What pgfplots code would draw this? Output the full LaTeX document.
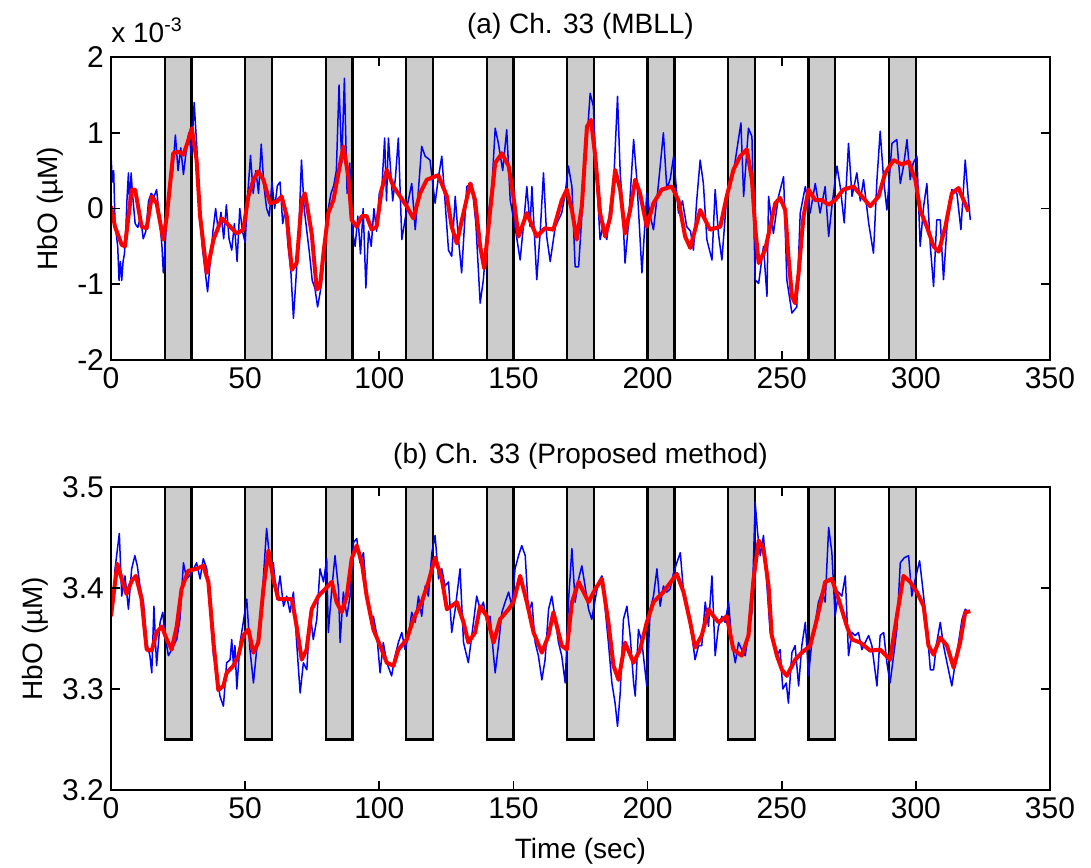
\documentclass[border=0pt]{standalone}
\usepackage{fontspec}
\setmainfont{Liberation Sans}
\usepackage{pgfplots}
\pgfplotsset{compat=1.18}
\definecolor{boxgray}{gray}{0.8}
\definecolor{sigblue}{RGB}{0,0,255}
\definecolor{sigred}{RGB}{255,0,0}

\pgfplotsset{
  fnirs/.style={
    scale only axis, width=469.5pt, height=151.5pt,
    xmin=0, xmax=350, xtick={0,50,...,350},
    tick align=inside, major tick length=4.5pt,
    axis line style={line width=0.9pt},
    every tick/.style={black, line width=0.8pt},
    axis on top,
    /pgf/number format/assume math mode=true,
    tick label style={font=\fontsize{15}{17}\selectfont},
    title style={font=\fontsize{14}{16}\selectfont, at={(0.5,1)}, anchor=base, yshift=6pt},
    label style={font=\fontsize{14}{16}\selectfont},
    xlabel style={yshift=-3pt},
    ylabel={HbO (µM)},
  },
  blk/.style={fill=boxgray, draw=black, line width=1.1pt, forget plot},
  raw/.style={color=sigblue, line width=0.75pt, line join=round},
  filt/.style={color=sigred, line width=2pt, line join=round},
}

\begin{document}
\begin{tikzpicture}
\useasboundingbox (-55.5pt,-253.5pt) rectangle (490pt,180pt);

% (a) MBLL, values in units of 1e-3
\begin{axis}[fnirs, name=top, ymin=-2, ymax=2, ytick={-2,-1,0,1,2},
  title={(a) Ch. 33 (MBLL)}]
  \addplot[blk] coordinates {(20,-2)(20,2)(30,2)(30,-2)} -- cycle;
  \addplot[blk] coordinates {(50,-2)(50,2)(60,2)(60,-2)} -- cycle;
  \addplot[blk] coordinates {(80,-2)(80,2)(90,2)(90,-2)} -- cycle;
  \addplot[blk] coordinates {(110,-2)(110,2)(120,2)(120,-2)} -- cycle;
  \addplot[blk] coordinates {(140,-2)(140,2)(150,2)(150,-2)} -- cycle;
  \addplot[blk] coordinates {(170,-2)(170,2)(180,2)(180,-2)} -- cycle;
  \addplot[blk] coordinates {(200,-2)(200,2)(210,2)(210,-2)} -- cycle;
  \addplot[blk] coordinates {(230,-2)(230,2)(240,2)(240,-2)} -- cycle;
  \addplot[blk] coordinates {(260,-2)(260,2)(270,2)(270,-2)} -- cycle;
  \addplot[blk] coordinates {(290,-2)(290,2)(300,2)(300,-2)} -- cycle;

  \addplot[raw] coordinates {
    (0,0.70)(0.5,0.35)(1,0.50)(1.5,-0.20)(2.5,-0.50)(3,-0.95)(3.5,-0.70)(4,-0.95)(4.5,-0.70)(5,-0.60)
    (5.5,-0.30)(6,0.15)(6.5,0.47)(7,0.00)(7.5,0.47)(8,0.20)(9,-0.20)(10,-0.25)(11,-0.10)(12,-0.40)
    (13,-0.30)(14,0.10)(15,0.20)(16,0.15)(17,0.25)(18,-0.10)(19,-0.50)(19.5,-0.85)(20,-0.60)(21,0.00)
    (22,0.30)(23,0.50)(24,0.97)(25,0.50)(26,0.80)(27,0.45)(28,0.75)(29,1.00)(30,0.70)(31,1.40)
    (32,0.80)(33,0.00)(34,-0.50)(35,-0.80)(36,-1.10)(37,-0.70)(38,-0.30)(39,0.00)(40,-0.30)(41,-0.05)
    (42,-0.40)(43,0.05)(44,-0.40)(45,-0.55)(46,-0.20)(47,-0.70)(48,0.00)(49,-0.30)(50,-0.45)(51,0.20)
    (52,0.70)(53,0.20)(54,0.50)(55,0.20)(56,0.85)(57,0.30)(58,0.00)(59,-0.10)(60,0.35)(61,0.00)
    (62,0.30)(63,0.35)(64,-0.20)(65,0.00)(66,-0.50)(67,-0.80)(68,-1.45)(69,-0.90)(70,-0.30)(71,0.64)
    (72,0.00)(73,-0.30)(74,-0.60)(75,-0.95)(76,-1.05)(77,-1.30)(78,-1.10)(79,-0.80)(80,-0.30)(81,0.00)
    (82,0.20)(83,0.30)(84,0.50)(85,1.63)(86,0.60)(87,1.72)(88,0.20)(89,0.60)(90,-0.30)(91,-0.50)
    (92,-0.10)(93,-0.60)(94,0.00)(95,-1.05)(96,-0.30)(97,-0.50)(98,0.00)(99,-0.30)(100,0.20)(101,0.30)
    (102,0.93)(102.7,0.10)(103.4,0.93)(105,0.10)(106,0.40)(107.1,0.93)(108.4,-0.41)(109,-0.28)(110.5,0.05)(112.1,0.33)
    (113.4,-0.28)(114.5,0.20)(115.8,0.82)(117.1,0.69)(118.9,0.64)(120.8,0.07)(122,0.40)(123.3,0.69)(124.5,0.10)(125.8,-0.55)
    (127,-0.63)(128.3,0.16)(129.5,-0.40)(130.7,-0.85)(132.6,0.29)(134.5,0.33)(136,-0.20)(137.6,-1.25)(138.8,-0.94)(140.7,-0.06)
    (142,0.30)(143.2,1.06)(144.4,0.86)(146,0.50)(147.5,1.04)(148.8,0.11)(150.6,-0.24)(152.5,-0.68)(153.8,-0.20)(155,0.29)
    (156.2,-0.24)(156.9,0.29)(158.7,-0.94)(160,-0.30)(161.2,0.47)(162.4,-0.37)(163.7,-0.70)(165.6,-0.24)(168,-0.06)(169.3,0.20)
    (170.5,0.56)(171.8,0.29)(173,-0.77)(174.3,-0.77)(176.1,0.25)(177.4,0.90)(178.6,1.52)(179.8,1.35)(181,0.40)(182.3,-0.41)
    (183.6,-0.19)(184.8,-0.41)(186,0.00)(187.3,0.29)(188.8,1.48)(189.8,0.47)(190.7,0.00)(191.6,-0.72)(192.9,-0.19)(194.8,0.91)
    (196,0.38)(197.9,-0.85)(199.7,0.20)(201,-0.10)(202.2,-0.28)(204,0.30)(205.9,1.00)(207.2,0.25)(208.5,0.40)(209.7,0.69)
    (211.5,-0.06)(213,0.10)(214.6,-0.24)(216,-0.30)(217.1,-0.55)(218.3,0.10)(219.6,0.64)(220.8,0.33)(222.1,-0.41)(224,-0.68)
    (225.2,0.25)(226.4,-0.33)(227.7,-0.68)(229.5,0.16)(230.8,0.30)(232,0.47)(233.3,0.78)(234.8,1.13)(235.8,0.16)(237.6,1.06)
    (238.9,0.95)(240.1,-0.94)(241.4,-0.99)(243.2,-0.50)(244.5,-1.16)(245.1,0.16)(246.9,-0.33)(248.8,0.16)(250.7,0.42)(251.9,-0.94)
    (253.8,-1.38)(255.6,-1.30)(256.9,-0.06)(258.8,0.29)(260.6,-0.06)(262.5,0.33)(264.3,-0.06)(266.2,0.29)(267.5,-0.37)(268.7,0.03)
    (270.6,0.56)(271.8,0.29)(273.3,-0.19)(274.9,0.86)(276.2,0.16)(278,0.47)(279.3,0.10)(280.5,0.38)(282.4,-0.19)(284.2,-0.59)
    (285.5,0.38)(286.7,1.02)(288,0.38)(289.2,-0.02)(291.1,0.86)(292.9,0.91)(294.2,0.33)(295.4,0.56)(296.7,0.91)(297.9,0.38)
    (299,0.60)(300.4,0.69)(301.6,-0.50)(302.9,0.03)(304.1,0.33)(305.4,-0.50)(306.6,-1.03)(307.8,-0.15)(309.1,-0.15)(310.3,-0.94)
    (311.6,-0.24)(313.4,0.25)(315.3,0.20)(316.8,-0.28)(318.4,0.64)(319.6,0.11)(320.3,-0.15)
  };
  \addplot[filt] coordinates {
    (0,0.03)(1.5,-0.24)(4,-0.48)(5.2,-0.50)(7.7,0.25)(9,0.25)(11.4,-0.24)(13.3,-0.26)(15.2,0.16)(17,0.07)
    (19.5,-0.41)(20.8,-0.10)(23.2,0.73)(25.1,0.75)(27,0.71)(28.8,0.90)(30.1,1.06)(31.9,0.64)(33.2,-0.10)(35.7,-0.85)
    (38.2,-0.41)(41.3,-0.13)(44.4,-0.24)(46.9,-0.33)(49.3,-0.28)(51.2,0.16)(53.1,0.38)(54.9,0.49)(56.8,0.38)(59.3,0.07)
    (61.8,0.09)(63.6,0.16)(65.5,-0.10)(67.4,-0.81)(69.2,-0.72)(71.1,0.11)(72.3,0.20)(74.8,-0.33)(76.7,-1.07)(77.9,-1.03)
    (79.2,-0.59)(81,-0.06)(82.9,0.11)(84.8,0.47)(86.6,0.82)(88.5,0.42)(89.7,-0.15)(91.6,-0.24)(93.5,-0.10)(95.3,-0.10)
    (97.2,-0.28)(99,-0.24)(100.9,0.25)(102.8,0.51)(105.3,0.29)(107.8,0.16)(110.2,0.03)(112.7,-0.13)(115.2,0.20)(117.7,0.38)
    (122,0.44)(125.2,0.16)(127,-0.24)(128.9,-0.46)(130.8,-0.15)(133.9,0.33)(135.7,0.11)(137.6,-0.50)(139.1,-0.79)(140.7,-0.24)
    (143.2,0.60)(145.7,0.73)(148.2,0.56)(150,0.16)(151.9,-0.37)(155,-0.06)(158.7,-0.37)(161.8,-0.26)(164.9,-0.28)(168,0.11)
    (169.9,0.25)(171.8,-0.02)(173.6,-0.41)(175.5,0.03)(177.4,1.08)(178.9,1.17)(180.5,0.69)(182.3,-0.06)(184.2,-0.37)(186.1,-0.11)
    (187.9,0.51)(189.8,0.25)(191.6,-0.33)(193.5,-0.02)(195.4,0.38)(197.2,0.20)(199.7,-0.24)(202.2,0.07)(205.3,0.25)(209,0.29)
    (211.5,0.11)(214,-0.37)(215.9,-0.52)(217.7,-0.28)(219.6,-0.02)(223.3,-0.28)(227.1,-0.24)(229.5,0.16)(232,0.51)(234.5,0.69)
    (237,0.78)(238.9,0.38)(240.1,-0.24)(241.4,-0.72)(243.8,-0.55)(245.7,-0.24)(247.6,0.07)(249.4,0.14)(251.3,-0.02)(252.5,-0.63)
    (253.8,-1.16)(255,-1.25)(256.3,-0.85)(258.1,-0.11)(260,0.25)(262.5,0.11)(265,0.11)(267.5,0.05)(269.9,0.11)(273,0.25)
    (276.8,0.29)(279.9,0.16)(283,0.03)(286.1,0.16)(288.6,0.47)(291.7,0.64)(294.8,0.58)(297.3,0.62)(299.8,0.38)(301.6,-0.02)
    (304.1,-0.24)(306.6,-0.50)(308.5,-0.57)(311,-0.24)(313.4,0.20)(315.9,0.27)(317.8,0.11)(319.6,-0.04)
  };
\end{axis}
\node[anchor=base west, inner sep=0pt, font=\fontsize{14}{16}\selectfont]
  at ([yshift=7.5pt]top.north west) {x 10\textsuperscript{-3}};

% (b) proposed method
\begin{axis}[fnirs, name=bot, at={(0,-215pt)}, ymin=3.2, ymax=3.5, ytick={3.2,3.3,3.4,3.5},
  yticklabel style={/pgf/number format/.cd, fixed, fixed zerofill, precision=1},
  title={(b) Ch. 33 (Proposed method)}, xlabel={Time (sec)}]
  \addplot[blk] coordinates {(20,3.25)(20,3.5)(30,3.5)(30,3.25)} -- cycle;
  \addplot[blk] coordinates {(50,3.25)(50,3.5)(60,3.5)(60,3.25)} -- cycle;
  \addplot[blk] coordinates {(80,3.25)(80,3.5)(90,3.5)(90,3.25)} -- cycle;
  \addplot[blk] coordinates {(110,3.25)(110,3.5)(120,3.5)(120,3.25)} -- cycle;
  \addplot[blk] coordinates {(140,3.25)(140,3.5)(150,3.5)(150,3.25)} -- cycle;
  \addplot[blk] coordinates {(170,3.25)(170,3.5)(180,3.5)(180,3.25)} -- cycle;
  \addplot[blk] coordinates {(200,3.25)(200,3.5)(210,3.5)(210,3.25)} -- cycle;
  \addplot[blk] coordinates {(230,3.25)(230,3.5)(240,3.5)(240,3.25)} -- cycle;
  \addplot[blk] coordinates {(260,3.25)(260,3.5)(270,3.5)(270,3.25)} -- cycle;
  \addplot[blk] coordinates {(290,3.25)(290,3.5)(300,3.5)(300,3.25)} -- cycle;

  \addplot[raw] coordinates {
    (0,3.372)(0.2,3.379)(0.9,3.386)(1.5,3.419)(2.1,3.432)(3.1,3.454)(4,3.392)(5.2,3.412)(6.5,3.379)(7.7,3.419)
    (8.9,3.432)(9.8,3.422)(10.8,3.402)(12.1,3.386)(13.3,3.346)(14.5,3.333)(15.2,3.316)(16,3.382)(17,3.323)(18.3,3.366)
    (19.3,3.376)(20.1,3.353)(21.4,3.333)(22.6,3.339)(24.5,3.349)(25.7,3.369)(27,3.425)(28.2,3.409)(30.1,3.415)(31.9,3.425)
    (33.2,3.409)(34.4,3.429)(35.7,3.419)(36.9,3.379)(38.2,3.333)(39.4,3.319)(40.6,3.293)(41.9,3.283)(43.1,3.326)(44.4,3.329)
    (45,3.349)(45.6,3.326)(46.2,3.343)(46.9,3.300)(48.1,3.346)(49.3,3.366)(50.6,3.389)(51.8,3.339)(53.1,3.306)(54.3,3.339)
    (56.2,3.386)(58,3.459)(59.3,3.425)(60.5,3.425)(61.8,3.389)(63,3.412)(64.3,3.382)(65.5,3.392)(66.7,3.376)(68,3.396)
    (69.2,3.346)(70.5,3.296)(71.7,3.326)(73,3.319)(74.2,3.376)(75.4,3.349)(76.7,3.369)(77.9,3.419)(79.2,3.406)(80.4,3.429)
    (81,3.356)(82.3,3.399)(83.5,3.432)(84.8,3.399)(85.4,3.346)(86.6,3.396)(87.9,3.372)(89.1,3.392)(90.4,3.445)(91.6,3.449)
    (92.8,3.425)(94.1,3.435)(95.3,3.392)(96.6,3.372)(97.8,3.372)(99.1,3.353)(100.3,3.316)(101.5,3.346)(102.8,3.326)(104.6,3.313)
    (105.9,3.333)(107.1,3.346)(108.4,3.356)(109.6,3.339)(110.9,3.353)(112.1,3.376)(113.4,3.366)(114.6,3.392)(115.8,3.372)(117.1,3.402)
    (118.3,3.392)(119.6,3.435)(120.8,3.452)(122.1,3.409)(123.3,3.419)(124.5,3.402)(125.8,3.406)(127,3.356)(128.3,3.379)(130.1,3.419)
    (131.4,3.346)(133.2,3.326)(135.1,3.366)(136.3,3.392)(137.6,3.379)(138.8,3.386)(140.1,3.366)(141.3,3.372)(142.6,3.333)(143.2,3.316)
    (144.4,3.343)(145.7,3.376)(146.9,3.386)(148.2,3.396)(149.4,3.382)(150.6,3.419)(151.9,3.432)(153.1,3.442)(154.4,3.432)(155.6,3.376)
    (156.9,3.386)(158.1,3.346)(159.3,3.333)(160.6,3.309)(161.8,3.329)(163.1,3.379)(164.3,3.392)(165.6,3.369)(166.8,3.346)(168,3.333)
    (169.3,3.306)(170.5,3.386)(171.8,3.439)(173,3.386)(174.3,3.409)(175.5,3.422)(176.7,3.402)(178,3.379)(179.2,3.369)(180.5,3.389)
    (181.7,3.406)(183,3.412)(184.2,3.379)(185.4,3.346)(186.7,3.306)(187.9,3.286)(188.8,3.263)(189.8,3.296)(191,3.369)(192.3,3.382)
    (193.5,3.353)(194.8,3.306)(195.4,3.293)(196.6,3.359)(197.9,3.346)(199.7,3.303)(201,3.379)(202.2,3.392)(203.5,3.419)(204.7,3.382)
    (205.9,3.402)(207.2,3.396)(208.4,3.399)(209.7,3.415)(210.9,3.425)(212.2,3.435)(213.4,3.396)(214.6,3.379)(215.9,3.366)(217.7,3.329)
    (219,3.343)(220.2,3.343)(221.5,3.386)(222.7,3.362)(224,3.412)(225.2,3.333)(226.4,3.362)(227.7,3.372)(228.9,3.366)(230.2,3.386)
    (231.4,3.346)(232.7,3.326)(233.9,3.346)(235.1,3.339)(236.4,3.333)(237.6,3.356)(238.9,3.376)(240.1,3.485)(241,3.455)(242,3.432)
    (243.2,3.452)(244.5,3.402)(245.7,3.356)(246.9,3.346)(248.2,3.333)(249.4,3.339)(250.4,3.300)(251.7,3.306)(252.5,3.286)(253.8,3.336)
    (255,3.343)(256.3,3.303)(257.5,3.343)(258.8,3.366)(260,3.313)(261.2,3.346)(262.5,3.366)(263.7,3.386)(265,3.396)(266.2,3.386)
    (267.5,3.460)(268.7,3.435)(269.9,3.372)(271.2,3.396)(272.4,3.392)(273.7,3.412)(274.9,3.333)(276.2,3.356)(277.4,3.353)(278.6,3.356)
    (279.9,3.339)(281.1,3.346)(282.4,3.353)(283.6,3.343)(285.5,3.303)(286.7,3.353)(288,3.356)(289.2,3.326)(290.4,3.306)(291.7,3.333)
    (292.9,3.359)(294.2,3.425)(295.7,3.430)(297.3,3.432)(298.5,3.392)(299.8,3.409)(301.4,3.427)(302.6,3.399)(304.1,3.362)(305.4,3.319)
    (306.6,3.319)(307.8,3.346)(309.1,3.366)(310.3,3.343)(311.6,3.326)(313.4,3.303)(314.7,3.326)(315.9,3.346)(317.2,3.369)(318.4,3.379)
    (319.6,3.376)
  };
  \addplot[filt] coordinates {
    (0,3.372)(0.9,3.392)(2.4,3.424)(4,3.409)(5.8,3.394)(7.7,3.407)(9.3,3.412)(11.4,3.389)(13.3,3.339)(15.2,3.338)
    (17,3.356)(18.9,3.362)(20.8,3.349)(22.6,3.339)(24.5,3.362)(26.3,3.399)(28.8,3.417)(31.9,3.419)(34.4,3.422)(36.3,3.406)
    (38.2,3.346)(40,3.299)(41.9,3.303)(43.1,3.316)(45.6,3.323)(47.5,3.333)(49.3,3.353)(51.2,3.359)(53.1,3.336)(54.9,3.346)
    (56.8,3.399)(58.7,3.437)(60.5,3.409)(62.4,3.389)(64.9,3.389)(67.4,3.389)(69.2,3.362)(71.1,3.329)(72.9,3.339)(74.8,3.379)
    (77.3,3.392)(79.8,3.399)(82.3,3.406)(84.1,3.386)(86,3.376)(87.9,3.392)(89.7,3.429)(91.6,3.442)(93.5,3.425)(95.3,3.392)
    (97.8,3.359)(100.3,3.343)(102.8,3.326)(105.3,3.323)(107.1,3.339)(110.2,3.349)(112.7,3.369)(115.8,3.386)(118.3,3.406)(120.8,3.430)
    (123.3,3.409)(125.2,3.379)(128.9,3.386)(131.4,3.366)(133.2,3.346)(135.7,3.356)(137.6,3.382)(140.1,3.372)(142.6,3.346)(145,3.369)
    (148.2,3.379)(150,3.386)(152.5,3.412)(155,3.386)(157.5,3.356)(160.6,3.336)(163.1,3.353)(164.9,3.376)(168,3.343)(169.9,3.339)
    (171.8,3.386)(174.3,3.406)(178,3.386)(180.5,3.399)(183,3.409)(185.4,3.366)(187.3,3.323)(189.2,3.309)(191.6,3.346)(194.8,3.326)
    (197.2,3.339)(199.7,3.366)(202.2,3.386)(205.9,3.396)(210.9,3.414)(213.4,3.396)(215.9,3.366)(217.7,3.341)(220.2,3.353)(222.7,3.379)
    (224.6,3.372)(226.5,3.366)(229.5,3.372)(232,3.339)(235.1,3.333)(237.6,3.353)(239.5,3.409)(241.4,3.447)(243.2,3.439)(245.1,3.402)
    (246.3,3.353)(248.2,3.333)(250.1,3.319)(251.9,3.313)(255,3.329)(257.5,3.336)(260.6,3.343)(263.1,3.369)(266.2,3.406)(268.7,3.409)
    (271.2,3.389)(274.3,3.362)(276.2,3.349)(279.3,3.346)(283,3.338)(286.7,3.339)(290.4,3.329)(292.9,3.372)(295.4,3.412)(297.9,3.406)
    (300.4,3.396)(302.9,3.382)(304.7,3.343)(306.6,3.334)(309.1,3.351)(311.6,3.343)(314.1,3.321)(316.5,3.346)(318.4,3.376)(320.3,3.377)
  };
\end{axis}
\end{tikzpicture}
\end{document}
